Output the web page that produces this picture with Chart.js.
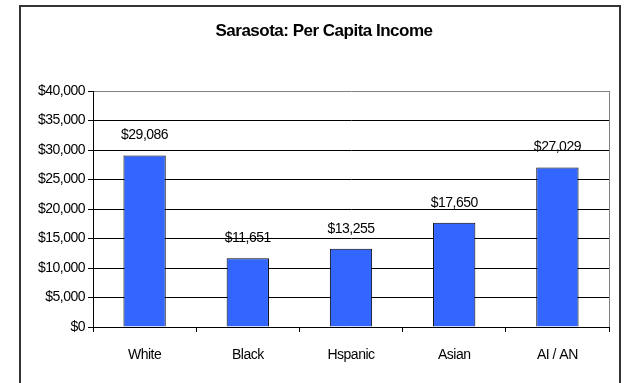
<!DOCTYPE html>
<html>
<head>
<meta charset="utf-8">
<script src="https://cdn.jsdelivr.net/npm/chart.js@4/dist/chart.umd.min.js"></script>
<style>
  html, body { margin: 0; padding: 0; background: #fff; }
  #c { display: block; }
</style>
</head>
<body>
<canvas id="c" width="627" height="383"></canvas>
<script>
const chartTitle = 'Sarasota: Per Capita Income';
const categories = ['White', 'Black', 'Hspanic', 'Asian', 'AI / AN'];
const incomes = [29086, 11651, 13255, 17650, 27029];
const yMin = 0;
const yMax = 40000;
const yStep = 5000;

const FONT = '"Liberation Sans", Arial, sans-serif';
const fmt = v => '$' + Number(v).toLocaleString('en-US');

const framePlugin = {
  id: 'frame',
  beforeUpdate(chart) {
    chart.ctx.letterSpacing = '-0.5px';
  },
  beforeDraw(chart) {
    const ctx = chart.ctx;
    ctx.letterSpacing = '-0.5px';
    ctx.save();
    ctx.fillStyle = '#fff';
    ctx.fillRect(0, 0, chart.width, chart.height);
    ctx.restore();
  },
  afterDraw(chart) {
    const ctx = chart.ctx;
    const a = chart.chartArea;
    ctx.save();
    // outer frame
    ctx.strokeStyle = '#333';
    ctx.lineWidth = 2;
    ctx.beginPath();
    ctx.moveTo(20, 400);
    ctx.lineTo(20, 6);
    ctx.lineTo(620, 6);
    ctx.lineTo(620, 400);
    ctx.stroke();
    // plot right border
    ctx.strokeStyle = '#808080';
    ctx.lineWidth = 1;
    ctx.beginPath();
    ctx.moveTo(Math.round(a.right) + 0.5, a.top);
    ctx.lineTo(Math.round(a.right) + 0.5, a.bottom);
    ctx.stroke();
    // title
    ctx.fillStyle = '#000';
    ctx.font = 'bold 17px ' + FONT;
    ctx.textAlign = 'center';
    ctx.textBaseline = 'middle';
    ctx.fillText(chartTitle, 324, 31);
    ctx.restore();
  }
};

const labelPlugin = {
  id: 'valueLabels',
  afterDatasetsDraw(chart) {
    const ctx = chart.ctx;
    const meta = chart.getDatasetMeta(0);
    ctx.save();
    ctx.fillStyle = '#000';
    ctx.font = '14px ' + FONT;
    ctx.textAlign = 'center';
    ctx.textBaseline = 'middle';
    meta.data.forEach((bar, i) => {
      ctx.fillText(fmt(incomes[i]), bar.x, bar.y - 20);
    });
    ctx.restore();
  }
};

new Chart(document.getElementById('c'), {
  type: 'bar',
  data: {
    labels: categories,
    datasets: [{
      data: incomes,
      backgroundColor: '#3366FF',
      borderColor: '#000',
      borderWidth: 1,
      categoryPercentage: 1,
      barPercentage: 0.41
    }]
  },
  options: {
    responsive: false,
    animation: false,
    devicePixelRatio: 1,
    layout: { padding: { top: 91, right: 18, bottom: 0, left: 0 } },
    plugins: {
      legend: { display: false },
      title: { display: false },
      tooltip: { enabled: false }
    },
    scales: {
      x: {
        offset: true,
        grid: {
          offset: true,
          drawOnChartArea: false,
          drawTicks: true,
          tickLength: 5,
          tickColor: '#000'
        },
        border: { color: '#000' },
        ticks: {
          color: '#000',
          font: { family: FONT, size: 14 },
          padding: 15,
          maxRotation: 0
        },
        afterFit(s) { s.height = 56; }
      },
      y: {
        min: yMin,
        max: yMax,
        grid: {
          color: c => (c.tick && c.tick.value === yMax) ? '#808080' : '#000',
          tickColor: '#000',
          tickLength: 5
        },
        border: { color: '#000' },
        ticks: {
          stepSize: yStep,
          color: '#000',
          font: { family: FONT, size: 14 },
          padding: 3,
          callback: v => fmt(v)
        },
        afterFit(s) { s.width = 93; }
      }
    }
  },
  plugins: [framePlugin, labelPlugin]
});
</script>
</body>
</html>
